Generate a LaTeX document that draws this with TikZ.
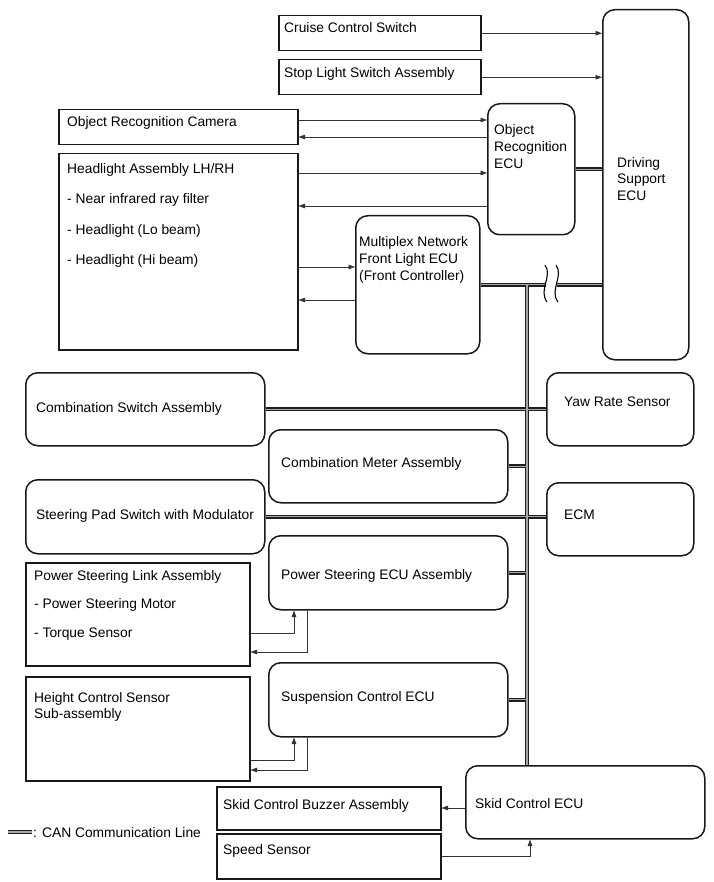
\documentclass[tikz,border=0pt]{standalone}
\usepackage{fontspec}
\setmainfont{Liberation Sans}
\usetikzlibrary{arrows.meta,calc}
\begin{document}
\begin{tikzpicture}[x=1pt,y=-1pt,
  sq/.style={draw=black!90,line width=1.5pt,inner sep=0,anchor=north west},
  rnd/.style={sq,rounded corners=12pt},
  txt/.style={inner sep=0,anchor=base west,font=\fontsize{13.8}{16}\selectfont},
  arr/.style={draw=black!80,line width=0.8pt,-{Triangle[length=6.5pt,width=4.5pt]}},
  canout/.style={draw=black!88,line width=4.4pt},
  canin/.style={draw=black!35,line width=1.4pt}]
\fill[white] (0,0) rectangle (713,882);
\useasboundingbox (0,0) rectangle (713,882);
% boxes
\node[sq,minimum width=202pt,minimum height=35pt] (cruise) at (278,15) {};
\node[sq,minimum width=202pt,minimum height=35pt] (stop) at (278,59) {};
\node[sq,minimum width=239pt,minimum height=35pt] (orc) at (58,109) {};
\node[sq,minimum width=239pt,minimum height=196pt] (head) at (58,153) {};
\node[rnd,minimum width=87pt,minimum height=131pt] (ore) at (487,103) {};
\node[rnd,minimum width=86pt,minimum height=350pt] (ds) at (602,9) {};
\node[rnd,minimum width=124pt,minimum height=138pt] (mux) at (355,215) {};
\node[rnd,minimum width=239pt,minimum height=73pt] (combsw) at (25,372) {};
\node[rnd,minimum width=147pt,minimum height=73pt] (yaw) at (546,372) {};
\node[rnd,minimum width=239pt,minimum height=73pt] (meter) at (268,429) {};
\node[rnd,minimum width=239pt,minimum height=74pt] (steer) at (25,479) {};
\node[rnd,minimum width=147pt,minimum height=73pt] (ecm) at (546,482) {};
\node[rnd,minimum width=239pt,minimum height=74pt] (psecu) at (268,535) {};
\node[sq,minimum width=224pt,minimum height=103pt] (pslink) at (25,562) {};
\node[sq,minimum width=224pt,minimum height=104pt] (height) at (25,676) {};
\node[rnd,minimum width=239pt,minimum height=74pt] (susp) at (268,662) {};
\node[rnd,minimum width=239pt,minimum height=73pt] (skid) at (465,765) {};
\node[sq,minimum width=224pt,minimum height=43pt] (buzzer) at (216,786) {};
\node[sq,minimum width=224pt,minimum height=45pt] (speed) at (216,833) {};
% texts
\node[txt] (t1) at (284,33) {Cruise Control Switch};
\node[txt] (t2) at (284,78) {Stop Light Switch Assembly};
\node[txt] (t3) at (67,127) {Object Recognition Camera};
\node[txt] (t4) at (67,174) {Headlight Assembly LH/RH};
\node[txt] (t5) at (67,204) {- Near infrared ray filter};
\node[txt] (t6) at (67,235) {- Headlight (Lo beam)};
\node[txt] (t7) at (67,265) {- Headlight (Hi beam)};
\node[txt] (t8) at (494,135) {Object};
\node[txt] (t9) at (494,152) {Recognition};
\node[txt] (t10) at (494,169) {ECU};
\node[txt] (t11) at (617,168) {Driving};
\node[txt] (t12) at (617,184) {Support};
\node[txt] (t13) at (617,201) {ECU};
\node[txt] (t14) at (359,247) {Multiplex Network};
\node[txt] (t15) at (359,263) {Front Light ECU};
\node[txt] (t16) at (359,280) {(Front Controller)};
\node[txt] (t17) at (36,412) {Combination Switch Assembly};
\node[txt] (t18) at (564,406) {Yaw Rate Sensor};
\node[txt] (t19) at (281,467) {Combination Meter Assembly};
\node[txt] (t20) at (36,519) {Steering Pad Switch with Modulator};
\node[txt] (t21) at (564,519) {ECM};
\node[txt] (t22) at (34,580) {Power Steering Link Assembly};
\node[txt] (t23) at (34,608) {- Power Steering Motor};
\node[txt] (t24) at (34,637) {- Torque Sensor};
\node[txt] (t25) at (281,579) {Power Steering ECU Assembly};
\node[txt] (t26) at (34,702) {Height Control Sensor};
\node[txt] (t27) at (34,718) {Sub-assembly};
\node[txt] (t28) at (281,701) {Suspension Control ECU};
\node[txt] (t29) at (223,809) {Skid Control Buzzer Assembly};
\node[txt] (t30) at (475,808) {Skid Control ECU};
\node[txt] (t31) at (223,854) {Speed Sensor};
\node[txt] (t32) at (33,837) {: CAN Communication Line};
% level coordinates
\coordinate (bustop) at (527,284);
\coordinate (y120) at (0,120);
\coordinate (y137) at (0,137);
\coordinate (y173) at (0,173);
\coordinate (y206) at (0,206);
\coordinate (y267) at (0,267);
\coordinate (y300) at (0,300);
\coordinate (y633) at (0,633);
\coordinate (y652) at (0,652);
\coordinate (y760) at (0,760);
\coordinate (y770) at (0,770);
\coordinate (y808) at (0,808);
\coordinate (y856) at (0,856);
\coordinate (x294) at (294,0);
\coordinate (x307) at (307,0);
\coordinate (x530) at (530,0);
\coordinate (lg1) at (8,832);
\coordinate (lg2) at (32,832);
% CAN lines
\foreach \st in {canout,canin}{
  \draw[\st] (ore.east) -- (ore.east -| ds.west);
  \draw[\st] (mux.east) -- (mux.east -| ds.west);
  \draw[\st] (bustop) -- (bustop |- skid.north);
  \draw[\st] (combsw.east) -- (combsw.east -| yaw.west);
  \draw[\st] (meter.east) -- (meter.east -| bustop);
  \draw[\st] (steer.east) -- (steer.east -| ecm.west);
  \draw[\st] (psecu.east) -- (psecu.east -| bustop);
  \draw[\st] (susp.east) -- (susp.east -| bustop);
  \draw[\st] (lg1) -- (lg2);
}
% break mark
\fill[white] (546,279) rectangle (557,289);
\draw[line width=1.1pt] (545,265) .. controls (553,276) and (538,290) .. (547,302);
\draw[line width=1.1pt] (556,265) .. controls (564,276) and (549,290) .. (558,302);
% arrows
\draw[arr] (cruise.east) -- (cruise.east -| ds.west);
\draw[arr] (stop.east) -- (stop.east -| ds.west);
\draw[arr] (orc.east |- y120) -- (ore.west |- y120);
\draw[arr] (ore.west |- y137) -- (orc.east |- y137);
\draw[arr] (head.east |- y173) -- (ore.west |- y173);
\draw[arr] (ore.west |- y206) -- (head.east |- y206);
\draw[arr] (head.east |- y267) -- (mux.west |- y267);
\draw[arr] (mux.west |- y300) -- (head.east |- y300);
\draw[arr] (pslink.east |- y633) -| (x294 |- psecu.south);
\draw[arr] (x307 |- psecu.south) |- (pslink.east |- y652);
\draw[arr] (height.east |- y760) -| (x294 |- susp.south);
\draw[arr] (x307 |- susp.south) |- (height.east |- y770);
\draw[arr] (skid.west |- y808) -- (buzzer.east |- y808);
\draw[arr] (speed.east |- y856) -| (x530 |- skid.south);
\end{tikzpicture}
\end{document}
